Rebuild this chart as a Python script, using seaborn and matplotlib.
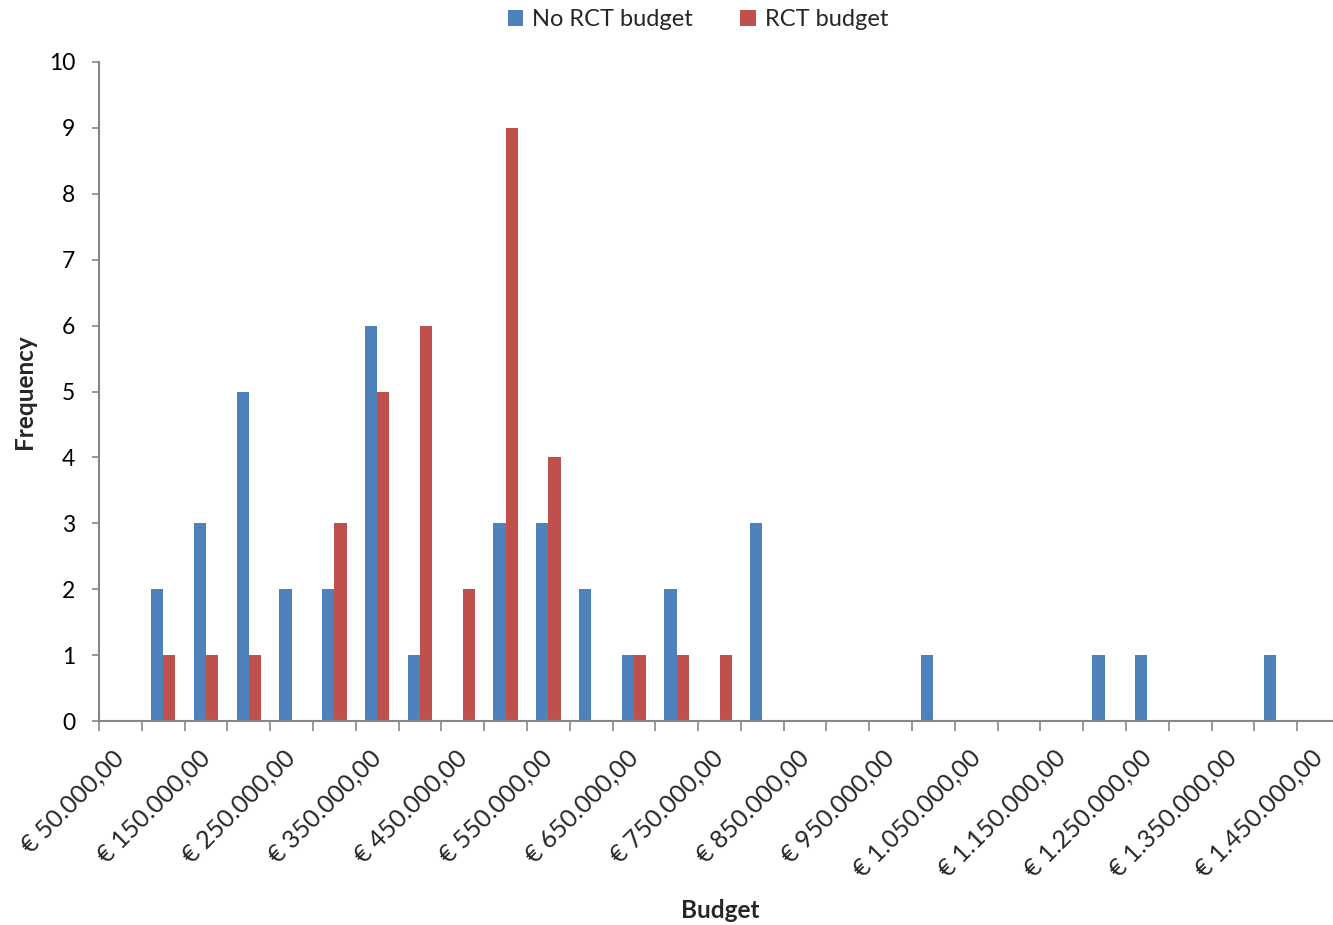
import numpy as np
import pandas as pd
import matplotlib
matplotlib.use("Agg")
import matplotlib.pyplot as plt
import matplotlib.transforms as mtransforms
import seaborn as sns
from matplotlib.patches import Patch

# budget bins (50.000 steps) and frequencies
budget_bins = [50000 + 50000 * i for i in range(29)]
no_rct = [0, 2, 3, 5, 2, 2, 6, 1, 0, 3, 3, 2, 1, 2, 0, 3,
          0, 0, 0, 1, 0, 0, 0, 1, 1, 0, 0, 1, 0]
rct = [0, 1, 1, 1, 0, 3, 5, 6, 2, 9, 4, 0, 1, 1, 1, 0,
       0, 0, 0, 0, 0, 0, 0, 0, 0, 0, 0, 0, 0]
series_names = ["No RCT budget", "RCT budget"]
colors = ["#4F81BD", "#C0504D"]


def euro(v):
    s = f"{v:,.2f}".replace(",", "X").replace(".", ",").replace("X", ".")
    return "€ " + s


labels = [euro(b) for b in budget_bins]

df = pd.DataFrame({
    "Budget": labels * 2,
    "Frequency": no_rct + rct,
    "Series": [series_names[0]] * len(labels) + [series_names[1]] * len(labels),
})

sns.set_style("ticks")
plt.rcParams["font.family"] = ["Lato", "DejaVu Sans"]

fig = plt.figure(figsize=(13.33, 9.25), dpi=100)
ax = fig.add_axes([99 / 1333, 204 / 925, 1241 / 1333, 659 / 925])

sns.barplot(data=df, x="Budget", y="Frequency", hue="Series", order=labels,
            hue_order=series_names, palette=colors, width=0.5714,
            linewidth=0, saturation=1, legend=False, ax=ax)

ax.set_xlim(-0.5, len(labels) - 0.5)
ax.set_ylim(0, 10)
ax.set_yticks(range(0, 11))
ax.tick_params(axis="y", labelsize=16.5, length=5, width=1.2, color="#868686",
               pad=12, labelcolor="black")

# labels on every other category, tick marks between categories
ax.set_xticks(range(0, len(labels), 2))
ax.set_xticklabels(labels[::2], rotation=45, ha="right", rotation_mode="anchor",
                   fontsize=18)
ax.set_xticks(np.arange(-0.5, len(labels), 1.0), minor=True)
ax.tick_params(axis="x", which="major", length=0, pad=18)
ax.tick_params(axis="x", which="minor", length=7, width=1.2, color="#868686")
shift = mtransforms.ScaledTranslation(-8 / 100, 0, fig.dpi_scale_trans)
for lab in ax.get_xticklabels():
    lab.set_transform(lab.get_transform() + shift)

for side in ["top", "right"]:
    ax.spines[side].set_visible(False)
for side in ["left", "bottom"]:
    ax.spines[side].set_color("#868686")
    ax.spines[side].set_linewidth(1.5)

ax.set_xlabel("")
ax.set_ylabel("")
fig.text(720 / 1333, 1 - 910 / 925, "Budget", ha="center", va="center",
         fontsize=17.5, fontweight="bold")
fig.text(25 / 1333, 1 - 392 / 925, "Frequency", ha="center", va="center",
         rotation=90, fontsize=17.5, fontweight="bold")

handles = [Patch(facecolor=c, edgecolor="none") for c in colors]
fig.legend(handles, series_names, loc="center", bbox_to_anchor=(698 / 1333, 1 - 20 / 925),
           ncol=2, frameon=False, fontsize=17, handlelength=0.65, handleheight=0.65,
           handletextpad=0.4, columnspacing=2.0)

fig.savefig("out.png", dpi=100)
